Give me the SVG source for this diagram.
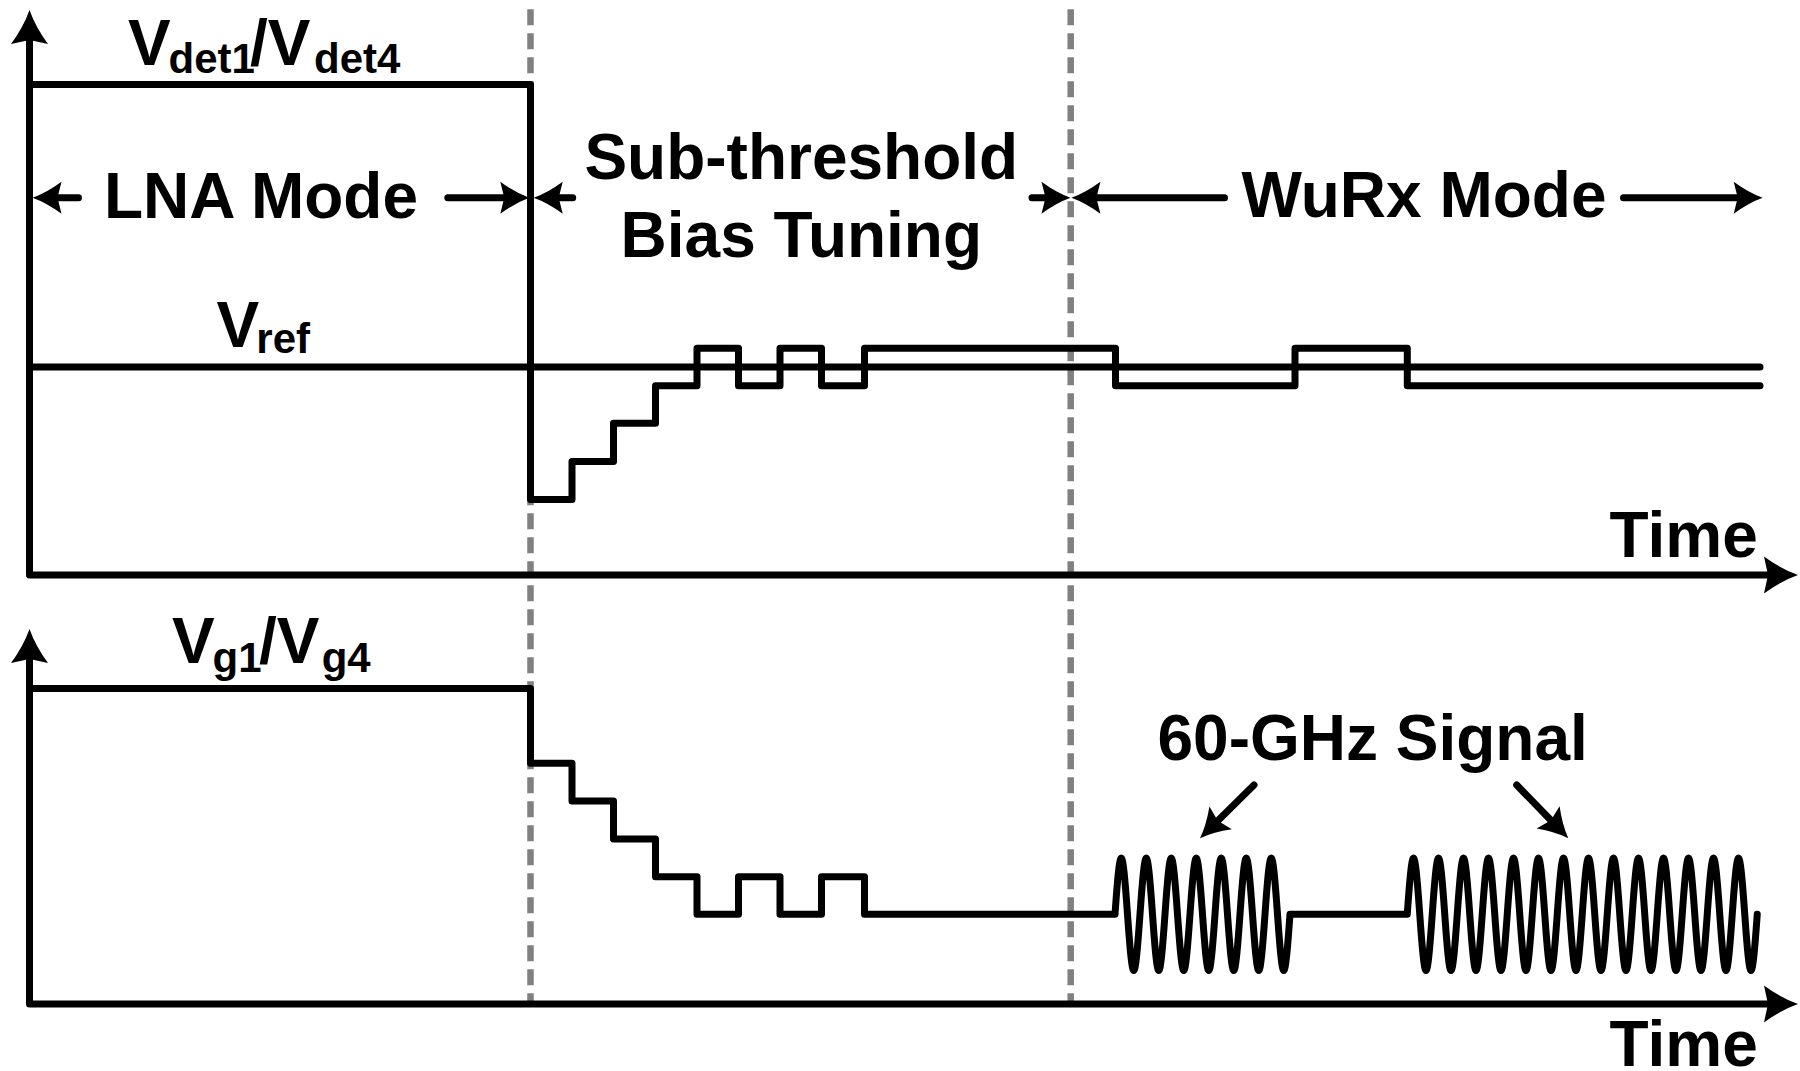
<svg xmlns="http://www.w3.org/2000/svg" width="1800" height="1071" viewBox="0 0 1800 1071">
  <style>
    .ln { fill: none; stroke: #000; stroke-width: 7; stroke-linejoin: round; stroke-linecap: round; }
    .ax { fill: none; stroke: #000; stroke-width: 7; stroke-linejoin: round; stroke-linecap: butt; }
    .dash { fill: none; stroke: #808080; stroke-width: 6.5; stroke-dasharray: 16 8; }
    .t { font-family: "Liberation Sans", Arial, sans-serif; font-weight: bold; font-size: 64px; fill: #000; }
    .s { font-size: 42px; }
  </style>
  <defs>
    <marker id="ahBig" markerUnits="userSpaceOnUse" orient="auto-start-reverse" refX="0" refY="0" markerWidth="1" markerHeight="1" style="overflow:visible">
      <path d="M30,0 Q13,-6 -4,-18.5 L0,0 L-4,18.5 Q13,6 30,0 Z" fill="#000"/>
    </marker>
    <marker id="ahSm" markerUnits="userSpaceOnUse" orient="auto" refX="0" refY="0" markerWidth="1" markerHeight="1" style="overflow:visible">
      <path d="M25,0 Q11,-5 -4,-16 L0,0 L-4,16 Q11,5 25,0 Z" fill="#000"/>
    </marker>
  </defs>
  <rect x="0" y="0" width="1800" height="1071" fill="#fff"/>

  <g id="phase-dividers">
    <path class="dash" d="M530.5,9.3 V1004"/>
    <path class="dash" d="M1070.7,9.3 V1004"/>
  </g>

  <g id="axes-top">
    <path class="ax" d="M29.5,40 V575 H1768" marker-start="url(#ahBig)" marker-end="url(#ahBig)"/>
  </g>
  <g id="axes-bottom">
    <path class="ax" d="M29.5,659 V1004 H1768" marker-start="url(#ahBig)" marker-end="url(#ahBig)"/>
  </g>

  <g id="signal-vref">
    <path class="ln" d="M29.5,367 H1760"/>
  </g>
  <g id="signal-vdet">
    <path class="ln" d="M29.5,84.5 H530.5 V499.5 H572 V461.5 H613.5 V423.3 H655.5 V385.7 H697 V348.3 H738.5 V385.7 H780 V348.3 H821.5 V385.7 H864.5 V348.3 H1115.5 V385.7 H1295 V348.3 H1407.3 V385.7 H1760"/>
  </g>
  <g id="signal-vg">
    <path class="ln" d="M29.5,688.5 H530.5 V763.3 H572 V801 H613.5 V839 H655.5 V876.7 H697 V914.3 H738.5 V876.7 H780 V914.3 H821.5 V876.7 H864.5 V914.3 H1115
      c5.3,-75 7.2,-75 12.5,0 c5.3,75 7.2,75 12.5,0
      c5.3,-75 7.2,-75 12.5,0 c5.3,75 7.2,75 12.5,0
      c5.3,-75 7.2,-75 12.5,0 c5.3,75 7.2,75 12.5,0
      c5.3,-75 7.2,-75 12.5,0 c5.3,75 7.2,75 12.5,0
      c5.3,-75 7.2,-75 12.5,0 c5.3,75 7.2,75 12.5,0
      c5.3,-75 7.2,-75 12.5,0 c5.3,75 7.2,75 12.5,0
      c5.3,-75 7.2,-75 12.5,0 c5.3,75 7.2,75 12.5,0
      H1407.25
      c5.3,-75 7.2,-75 12.5,0 c5.3,75 7.2,75 12.5,0
      c5.3,-75 7.2,-75 12.5,0 c5.3,75 7.2,75 12.5,0
      c5.3,-75 7.2,-75 12.5,0 c5.3,75 7.2,75 12.5,0
      c5.3,-75 7.2,-75 12.5,0 c5.3,75 7.2,75 12.5,0
      c5.3,-75 7.2,-75 12.5,0 c5.3,75 7.2,75 12.5,0
      c5.3,-75 7.2,-75 12.5,0 c5.3,75 7.2,75 12.5,0
      c5.3,-75 7.2,-75 12.5,0 c5.3,75 7.2,75 12.5,0
      c5.3,-75 7.2,-75 12.5,0 c5.3,75 7.2,75 12.5,0
      c5.3,-75 7.2,-75 12.5,0 c5.3,75 7.2,75 12.5,0
      c5.3,-75 7.2,-75 12.5,0 c5.3,75 7.2,75 12.5,0
      c5.3,-75 7.2,-75 12.5,0 c5.3,75 7.2,75 12.5,0
      c5.3,-75 7.2,-75 12.5,0 c5.3,75 7.2,75 12.5,0
      c5.3,-75 7.2,-75 12.5,0 c5.3,75 7.2,75 12.5,0
      c5.3,-75 7.2,-75 12.5,0 c5.3,75 7.2,75 12.5,0"/>
  </g>

  <g id="connectors">
    <path class="ln" d="M78.5,197.7 H57.5" marker-end="url(#ahSm)"/>
    <path class="ln" d="M447.8,197.7 H504.3" marker-end="url(#ahSm)"/>
    <path class="ln" d="M572.7,197.7 H558.7" marker-end="url(#ahSm)"/>
    <path class="ln" d="M1032,197.7 H1045.5" marker-end="url(#ahSm)"/>
    <path class="ln" d="M1224.5,197.7 H1096.4" marker-end="url(#ahSm)"/>
    <path class="ln" d="M1623.5,197.7 H1737.7" marker-end="url(#ahSm)"/>
    <path class="ln" d="M1254,785 L1217.8,820.7" marker-end="url(#ahSm)"/>
    <path class="ln" d="M1516.7,785 L1550.9,820.3" marker-end="url(#ahSm)"/>
  </g>

  <g id="label-vdet">
    <text class="t"><tspan x="128" y="65">V</tspan><tspan class="s" x="168.5" y="73">det1</tspan><tspan x="250" y="65">/V</tspan><tspan class="s" x="314" y="73">det4</tspan></text>
  </g>
  <g id="label-vref">
    <text class="t"><tspan x="216.5" y="346.7">V</tspan><tspan class="s" x="256.3" y="353">ref</tspan></text>
  </g>
  <g id="label-vg">
    <text class="t"><tspan x="172" y="663.3">V</tspan><tspan class="s" x="212.6" y="671.7">g1</tspan><tspan x="259" y="663.3">/V</tspan><tspan class="s" x="321.7" y="671.7">g4</tspan></text>
  </g>
  <g id="label-lna-mode">
    <text class="t" x="104" y="218">LNA Mode</text>
  </g>
  <g id="label-subthreshold">
    <text class="t" x="801.3" y="178.5" text-anchor="middle">Sub-threshold</text>
    <text class="t" x="801.3" y="256.7" text-anchor="middle">Bias Tuning</text>
  </g>
  <g id="label-wurx-mode">
    <text class="t" x="1241.5" y="217">WuRx Mode</text>
  </g>
  <g id="label-time-top">
    <text class="t" x="1609.5" y="557">Time</text>
  </g>
  <g id="label-time-bottom">
    <text class="t" x="1609.5" y="1066">Time</text>
  </g>
  <g id="label-60ghz">
    <text class="t" x="1157.5" y="760">60-GHz Signal</text>
  </g>
</svg>
